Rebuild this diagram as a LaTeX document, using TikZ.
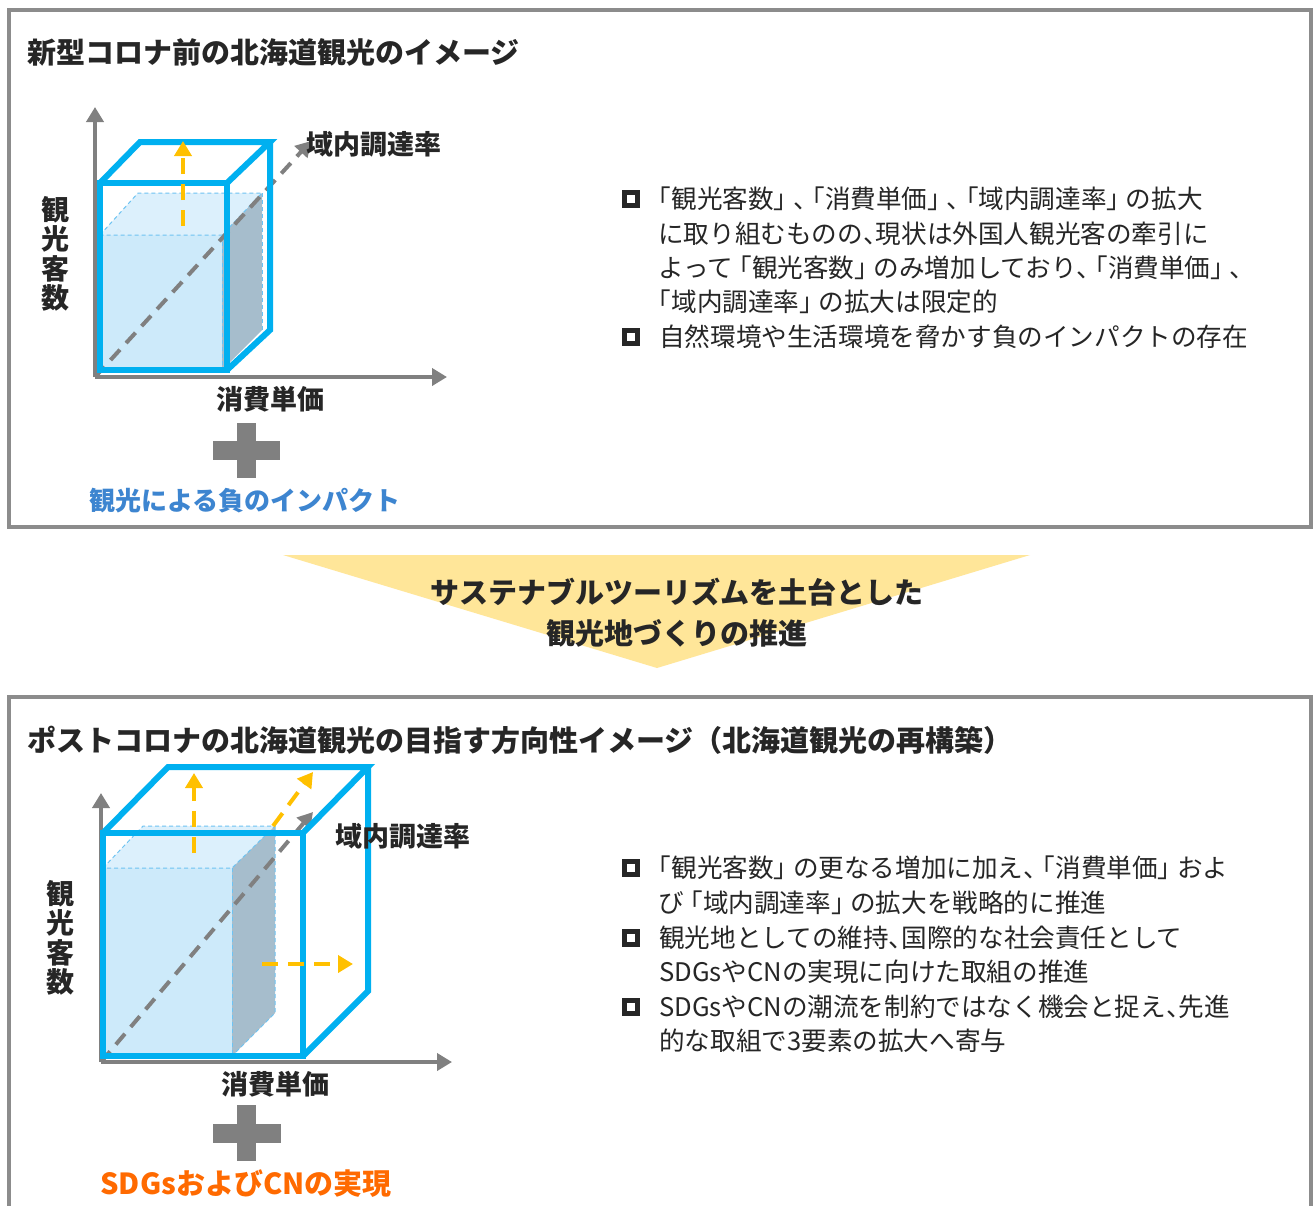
\documentclass[tikz,border=0pt]{standalone}
\usepackage{fontspec}
\setmainfont{Noto Sans CJK JP}
\usetikzlibrary{arrows.meta}
\definecolor{cyanb}{HTML}{00B0F0}
\definecolor{fillf}{HTML}{CDEAFA}
\definecolor{fillt}{HTML}{DCF0FC}
\definecolor{fillr}{HTML}{A6BDCC}
\definecolor{ldash}{HTML}{6EC3F2}
\definecolor{axgray}{HTML}{808080}
\definecolor{ylw}{HTML}{FFC000}
\definecolor{tri}{HTML}{FFE699}
\definecolor{tdark}{HTML}{262626}
\definecolor{pborder}{HTML}{8C8C8C}
\definecolor{bluet}{HTML}{3D85D0}
\definecolor{orat}{HTML}{FF6A00}
\newcommand{\tk}{、\kern-0.5em}
\newcommand{\lbk}{\kern-0.25em「}
\newcommand{\rbk}{」\kern-0.25em}
\begin{document}
\begin{tikzpicture}[x=1pt,y=-1pt,
  txt/.style={text=tdark, inner sep=0pt},
  lbl/.style={txt, font=\fontsize{27}{30}\selectfont\bfseries},
  ttl/.style={txt, anchor=west, font=\fontsize{29}{32}\selectfont\bfseries},
  bul/.style={txt, anchor=west, font=\fontsize{25.6}{30}\selectfont},
  bsq/.style={draw=tdark, line width=5pt, minimum size=13pt, inner sep=0pt},
  cubeedge/.style={draw=cyanb, line width=6pt, line join=miter},
  axisline/.style={draw=axgray, line width=4pt, -{Triangle[length=15pt,width=17pt]}},
  diagline/.style={draw=axgray, line width=4pt, dash pattern=on 14pt off 9pt, -{Triangle[length=15pt,width=17pt]}},
  growarrow/.style={draw=ylw, line width=4pt, dash pattern=on 16pt off 10pt, -{Triangle[length=15pt,width=17pt]}},
  innerdash/.style={draw=ldash, line width=1pt, dash pattern=on 4pt off 3pt},
  pluspart/.style={fill=axgray, draw=none},
  panel/.style={draw=pborder, line width=3.5pt}
]
\clip (0,0) rectangle (1314,1205);
\fill[white] (0,0) rectangle (1314,1205);

% ---------- panels ----------
\draw[panel] (9,10) rectangle (1311,527);
\draw[panel] (9,697) rectangle (1311,1230);

\node[ttl] (t1) at (27,52) {新型コロナ前の北海道観光のイメージ};
\node[ttl] (t2) at (27,740) {ポストコロナの北海道観光の目指す方向性イメージ（北海道観光の再構築）};

% ---------- triangle ----------
\fill[tri] (283,555) -- (1030,555) -- (657,668) -- cycle;
\node[txt, font=\fontsize{29}{32}\selectfont\bfseries] (m1) at (677,592) {サステナブルツーリズムを土台とした};
\node[txt, font=\fontsize{29}{32}\selectfont\bfseries] (m2) at (677,633) {観光地づくりの推進};

% ---------- top cube ----------
\fill[fillf] (100,235) rectangle (222,370);
\fill[fillt] (100,235) -- (138,193) -- (262,193) -- (222,235) -- cycle;
\fill[fillr] (222,235) -- (262,193) -- (262,330) -- (222,370) -- cycle;
\draw[innerdash] (100,235) -- (138,193) -- (262,193) -- (222,235) -- cycle;
\draw[innerdash] (222,235) -- (222,370);
\draw[innerdash] (262,193) -- (262,330);

\coordinate (o1) at (95,377);
\coordinate (y1) at (95,107);
\coordinate (x1) at (447,377);
\coordinate (z1) at (311,141);
\draw[diagline] (o1) -- (z1);
\draw[axisline] (o1) -- (y1);
\draw[axisline] (o1) -- (x1);

\draw[cubeedge] (100,183) rectangle (227,370);
\draw[cubeedge] (100,183) -- (140,142) -- (270,142) -- (227,183);
\draw[cubeedge] (270,142) -- (270,330) -- (227,370);

\coordinate (a1s) at (183,226);
\coordinate (a1e) at (183,141);
\draw[growarrow] (a1s) -- (a1e);

\node[lbl] (z1l) at (374,144) {域内調達率};
\node[lbl] (x1l) at (270,399) {消費単価};
\node[txt, align=center, font=\fontsize{28}{29.5}\selectfont\bfseries] (y1l) at (55,254) {観\\光\\客\\数};

\fill[pluspart] (213,441) rectangle (280,460);
\fill[pluspart] (237,423) rectangle (256,478);
\node[txt, text=bluet, font=\fontsize{26}{30}\selectfont\bfseries] (neg) at (245,501) {観光による負のインパクト};

% bullets top
\node[bsq] (b11) at (631,199) {};
\node[bul] (l11) at (652,199) {\lbk 観光客数\rbk\tk\lbk 消費単価\rbk\tk\lbk 域内調達率\rbk の拡大};
\node[bul] (l12) at (658,234) {に取り組むものの\tk 現状は外国人観光客の牽引に};
\node[bul] (l13) at (658,268) {よって\lbk 観光客数\rbk のみ増加しており\tk\lbk 消費単価\rbk\tk};
\node[bul] (l14) at (652,302) {\lbk 域内調達率\rbk の拡大は限定的};
\node[bsq] (b12) at (631,337) {};
\node[bul] (l15) at (659,337) {自然環境や生活環境を脅かす負のインパクトの存在};

% ---------- bottom cube ----------
\fill[fillf] (103,868) rectangle (232,1056);
\fill[fillt] (103,868) -- (143,826) -- (275,826) -- (232,868) -- cycle;
\fill[fillr] (232,868) -- (275,826) -- (275,1013) -- (232,1056) -- cycle;
\draw[innerdash] (103,868) -- (143,826) -- (275,826) -- (232,868) -- cycle;
\draw[innerdash] (232,868) -- (232,1056);
\draw[innerdash] (275,826) -- (275,1013) -- (232,1056);

\coordinate (o2) at (101,1062);
\coordinate (y2) at (101,793);
\coordinate (x2) at (452,1062);
\coordinate (z2) at (313,812);
\draw[diagline] (o2) -- (z2);
\draw[axisline] (o2) -- (y2);
\draw[axisline] (o2) -- (x2);

\draw[cubeedge] (103,833) rectangle (303,1056);
\draw[cubeedge] (103,833) -- (168,767) -- (368,767) -- (303,833);
\draw[cubeedge] (368,767) -- (368,991) -- (303,1056);

\coordinate (a2s) at (194,853);
\coordinate (a2e) at (194,773);
\draw[growarrow] (a2s) -- (a2e);
\coordinate (a3s) at (273,826);
\coordinate (a3e) at (313,772);
\draw[growarrow] (a3s) -- (a3e);
\coordinate (a4s) at (262,964);
\coordinate (a4e) at (353,964);
\draw[growarrow] (a4s) -- (a4e);

\node[lbl] (z2l) at (403,836) {域内調達率};
\node[lbl] (x2l) at (275,1084) {消費単価};
\node[txt, align=center, font=\fontsize{28}{29.5}\selectfont\bfseries] (y2l) at (60,938) {観\\光\\客\\数};

\fill[pluspart] (213,1124) rectangle (281,1143);
\fill[pluspart] (237,1105) rectangle (256,1161);
\node[txt, text=orat, font=\fontsize{29}{32}\selectfont\bfseries] (sdg) at (246,1184) {SDGsおよびCNの実現};

% bullets bottom
\node[bsq] (b21) at (631,868) {};
\node[bul] (l21) at (652,868) {\lbk 観光客数\rbk の更なる増加に加え\tk\lbk 消費単価\rbk およ};
\node[bul] (l22) at (658,903) {び\lbk 域内調達率\rbk の拡大を戦略的に推進};
\node[bsq] (b22) at (631,938) {};
\node[bul] (l23) at (659,938) {観光地としての維持\tk 国際的な社会責任として};
\node[bul] (l24) at (659,972) {SDGsやCNの実現に向けた取組の推進};
\node[bsq] (b23) at (631,1007) {};
\node[bul] (l25) at (659,1007) {SDGsやCNの潮流を制約ではなく機会と捉え\tk 先進};
\node[bul] (l26) at (659,1041) {的な取組で3要素の拡大へ寄与};
\end{tikzpicture}
\end{document}
